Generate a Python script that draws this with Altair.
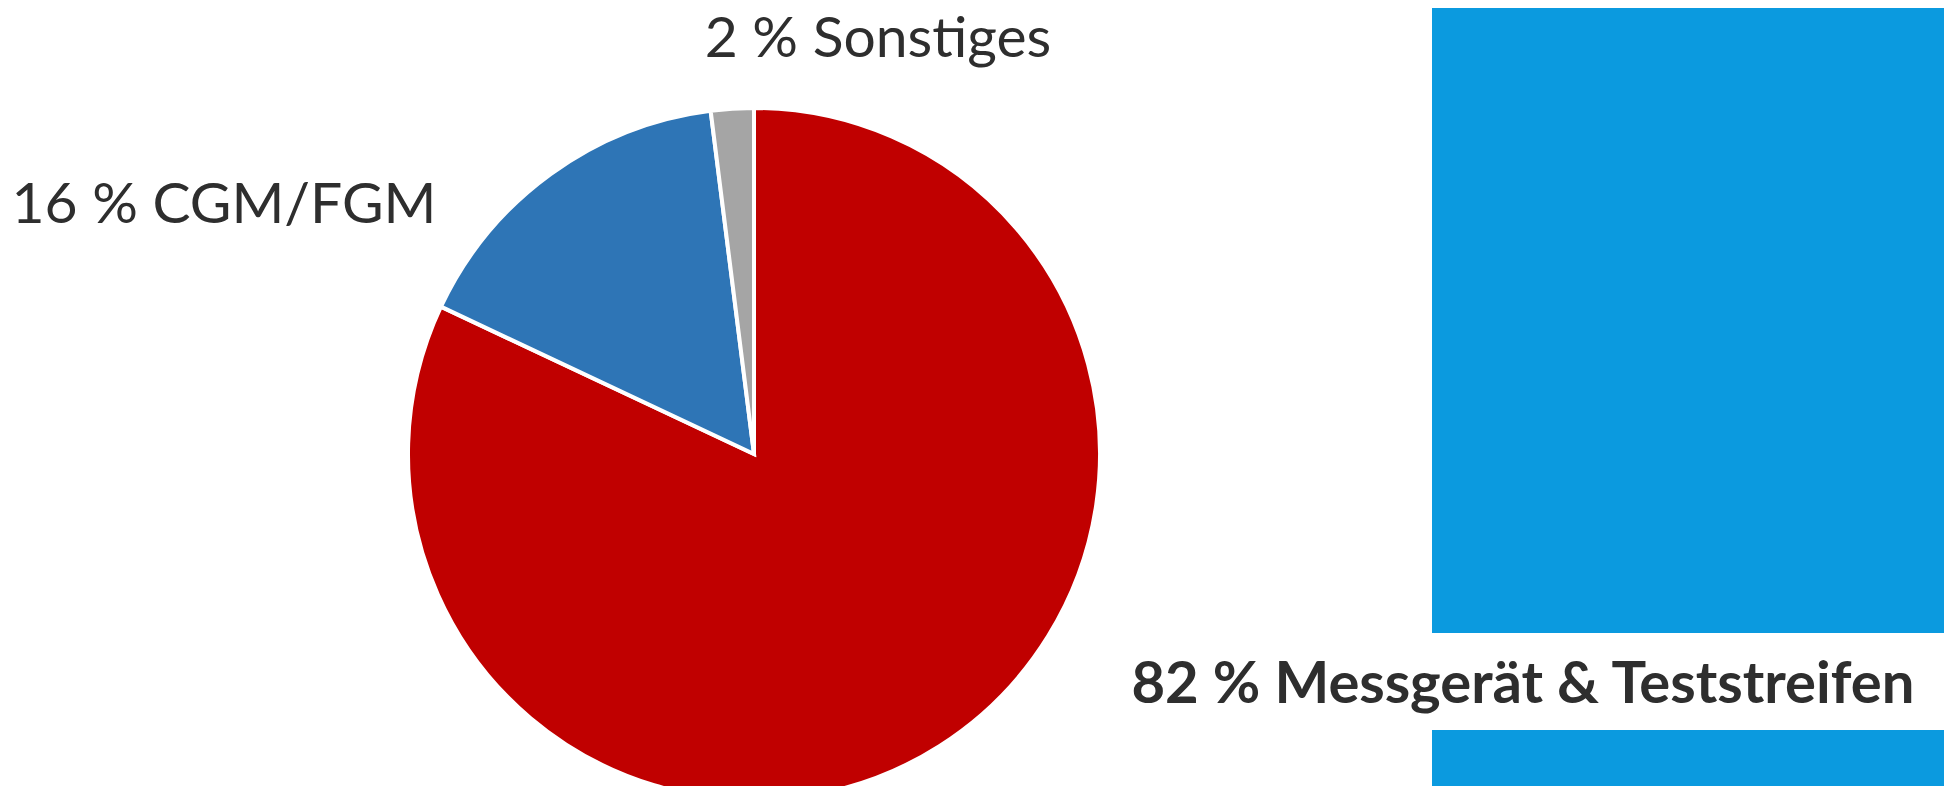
import altair as alt
import pandas as pd

categories = ["Messgerät & Teststreifen", "CGM/FGM", "Sonstiges"]
shares = [82, 16, 2]
order_idx = [0, 1, 2]
colors = ["#C00000", "#2E75B6", "#A5A5A5"]

df = pd.DataFrame({"cat": categories, "share": shares, "idx": order_idx})
df["label"] = df["share"].astype(str) + " % " + df["cat"]

W, H = 1936, 778
FONT = "Lato"
TXT = "#2E2E2E"

base = alt.Chart(df)

pie = base.mark_arc(radius=346, stroke="white", strokeWidth=4).encode(
    theta=alt.Theta("share:Q", stack=True),
    order=alt.Order("idx:Q"),
    color=alt.Color("cat:N", scale=alt.Scale(domain=categories, range=colors), legend=None),
    x=alt.value(746),
    y=alt.value(446),
)

band_top = alt.Chart(df).mark_rect(color="#0B9ADF").encode(
    x=alt.value(1424), x2=alt.value(W), y=alt.value(0), y2=alt.value(625)
).transform_filter(alt.datum.idx == 0)
band_bot = alt.Chart(df).mark_rect(color="#0B9ADF").encode(
    x=alt.value(1424), x2=alt.value(W), y=alt.value(722), y2=alt.value(H)
).transform_filter(alt.datum.idx == 0)

def label(i, x, y, weight, size):
    return base.transform_filter(alt.datum.idx == i).mark_text(
        font=FONT, fontSize=size, fontWeight=weight, color=TXT,
        align="center", baseline="alphabetic"
    ).encode(text="label:N", x=alt.value(x), y=alt.value(y))

t_main = label(0, 1515, 695, "bold", 58)
t_cgm = label(1, 216, 215, "normal", 57)
t_son = label(2, 870, 49, "normal", 57)

chart = alt.layer(band_top, band_bot, pie, t_main, t_cgm, t_son).properties(
    width=W, height=H, padding=0,
    autosize=alt.AutoSizeParams(type="none"),
).configure_view(stroke=None)

chart.save("out.html", embed_options={"renderer": "svg", "actions": False})
